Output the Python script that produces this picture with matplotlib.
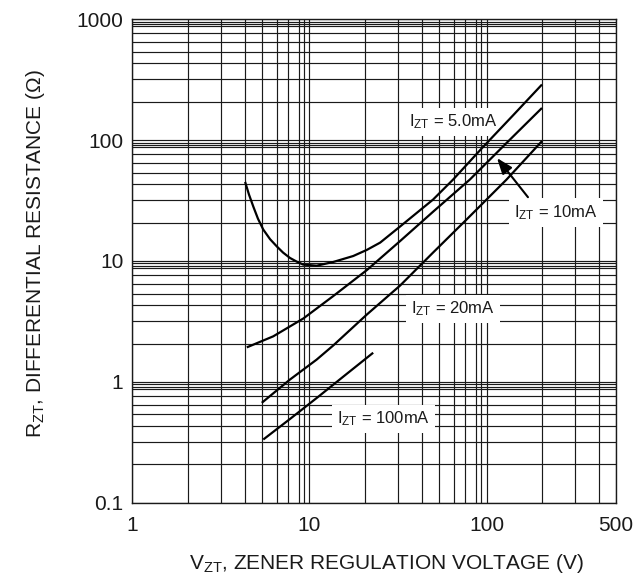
import numpy as np
import matplotlib
matplotlib.use("Agg")
import matplotlib.pyplot as plt
from matplotlib.ticker import FixedLocator, FixedFormatter, NullFormatter

plt.rcParams['font.family'] = ['Liberation Sans', 'DejaVu Sans']
plt.rcParams['mathtext.fontset'] = 'custom'
plt.rcParams['mathtext.rm'] = 'Liberation Sans'
plt.rcParams['mathtext.it'] = 'Liberation Sans:italic'
plt.rcParams['mathtext.bf'] = 'Liberation Sans:bold'

# ---------------- data ----------------
v_5mA = [4.0, 4.23, 4.5, 4.77, 5.1, 5.55, 6.0, 6.54, 7.15, 7.75, 8.8, 11.3, 14.3,
         17.9, 20.6, 24.6, 30.8, 46.5, 59.4, 91, 148, 200]
r_5mA = [42, 33.6, 27, 21.8, 18.2, 15.7, 13.8, 12.2, 10.8, 9.9, 9.25, 9.0, 9.8,
         11.3, 12.9, 14.8, 19.0, 30.4, 44, 78, 165, 277]

v_10mA = [4.1, 5.76, 8.84, 14.3, 20.6, 30.8, 46.7, 74, 136, 200]
r_10mA = [1.9, 2.32, 3.16, 4.78, 7.68, 15.2, 25, 44, 94, 184]

v_20mA = [5.0, 7.15, 11.3, 14.3, 20.6, 30.8, 46.5, 71, 136, 200]
r_20mA = [0.62, 1.06, 1.58, 1.95, 3.41, 5.81, 12.2, 21.4, 44, 98]

v_100mA = [5.1, 7.15, 11.6, 16.4, 22.5]
r_100mA = [0.315, 0.46, 0.69, 1.17, 1.76]

x_major = [1, 10, 100, 500]
x_major_labels = ['1', '10', '100', '500']
y_major = [0.1, 1, 10, 100, 1000]
y_major_labels = ['0.1', '1', '10', '100', '1000']

labels = [r'I$_{\mathrm{ZT}}$ = 5.0mA', r'I$_{\mathrm{ZT}}$ = 10mA',
          r'I$_{\mathrm{ZT}}$ = 20mA', r'I$_{\mathrm{ZT}}$ = 100mA']

# ------------- hand-drawn log-grid geometry of the original sheet -------------
MANT_X = [1, 2, 3, 4, 5, 6, 7, 8, 9, 10]
POS_X = [0, .313, .501, .637, .731, .816, .881, .942, .970, 1]
MANT_Y = [1, 2, 3, 4, 5, 6, 7, 8, 9, 9.5, 10]
POS_Y = [0, .317, .503, .635, .731, .812, .884, .944, .961, .980, 1]


def make_scale(mant, pos):
    lm = np.array(mant, float)
    lp = np.array(pos, float)

    def fwd(v):
        v = np.asarray(v, dtype=float)
        v = np.where(v > 0, v, 1e-300)
        d = np.floor(np.log10(v))
        m = v / 10.0 ** d
        hi = m >= 10
        d = np.where(hi, d + 1, d)
        m = np.where(hi, m / 10, m)
        lo = m < 1
        d = np.where(lo, d - 1, d)
        m = np.where(lo, m * 10, m)
        return d + np.interp(m, lm, lp)

    def inv(u):
        u = np.asarray(u, dtype=float)
        d = np.floor(u)
        f = u - d
        return np.interp(f, lp, lm) * 10.0 ** d

    return fwd, inv


W, H = 637, 581
fig = plt.figure(figsize=(W / 100, H / 100), dpi=100)
L, R, T, B = 132.3, 616.0, 19.3, 502.7
ax = fig.add_axes([L / W, (H - B) / H, (R - L) / W, (B - T) / H])

ax.set_xscale('function', functions=make_scale(MANT_X, POS_X))
ax.set_yscale('function', functions=make_scale(MANT_Y, POS_Y))
ax.set_xlim(1, 500)
ax.set_ylim(0.1, 1000)

x_minor = [m * 10 ** d for d in range(0, 3) for m in MANT_X[1:-1] if m * 10 ** d < 500]
y_minor = [m * 10.0 ** d for d in range(-1, 3) for m in MANT_Y[1:-1]]
ax.xaxis.set_major_locator(FixedLocator(x_major))
ax.xaxis.set_major_formatter(FixedFormatter(x_major_labels))
ax.xaxis.set_minor_locator(FixedLocator(x_minor))
ax.xaxis.set_minor_formatter(NullFormatter())
ax.yaxis.set_major_locator(FixedLocator(y_major))
ax.yaxis.set_major_formatter(FixedFormatter(y_major_labels))
ax.yaxis.set_minor_locator(FixedLocator(y_minor))
ax.yaxis.set_minor_formatter(NullFormatter())

ink = '#1a1a1a'
ax.grid(True, which='both', color=ink, lw=0.85)
ax.set_axisbelow(True)
for s in ax.spines.values():
    s.set_color(ink)
    s.set_linewidth(1.0)
ax.tick_params(which='both', length=0, labelsize=15, labelcolor=ink)
ax.tick_params(axis='x', pad=9.5)
ax.tick_params(axis='y', pad=6.5)

for v, r in [(v_5mA, r_5mA), (v_10mA, r_10mA), (v_20mA, r_20mA), (v_100mA, r_100mA)]:
    ax.plot(v, r, color='black', lw=1.6, zorder=5, solid_capstyle='butt',
            solid_joinstyle='round')

box = dict(boxstyle='square,pad=0.3', fc='white', ec='none')
label_pos = [(0.663, 0.7875), (0.876, 0.601), (0.663, 0.4007), (0.520, 0.173)]
for txt, (px, py) in zip(labels, label_pos):
    ax.text(px, py, txt, transform=ax.transAxes, fontsize=12, color=ink,
            ha='center', va='center', bbox=box, zorder=4)

ax.annotate('', xy=(0.754, 0.713), xytext=(0.818, 0.632),
            xycoords='axes fraction', textcoords='axes fraction',
            arrowprops=dict(arrowstyle='-|>,head_length=0.8,head_width=0.3',
                            color='black', lw=1.5, shrinkA=0, shrinkB=0,
                            mutation_scale=12), zorder=6)

fig.text(386.5 / W, 1 - 569 / H, r'V$_{\mathrm{ZT}}$, ZENER REGULATION VOLTAGE (V)',
         fontsize=15, color=ink, ha='center', va='baseline')
fig.text(41 / W, 1 - 253.5 / H, r'R$_{\mathrm{ZT}}$, DIFFERENTIAL RESISTANCE ($\Omega$)',
         fontsize=15, color=ink, ha='center', va='baseline', rotation=90,
         rotation_mode='anchor')

fig.savefig('out.png', dpi=100)
